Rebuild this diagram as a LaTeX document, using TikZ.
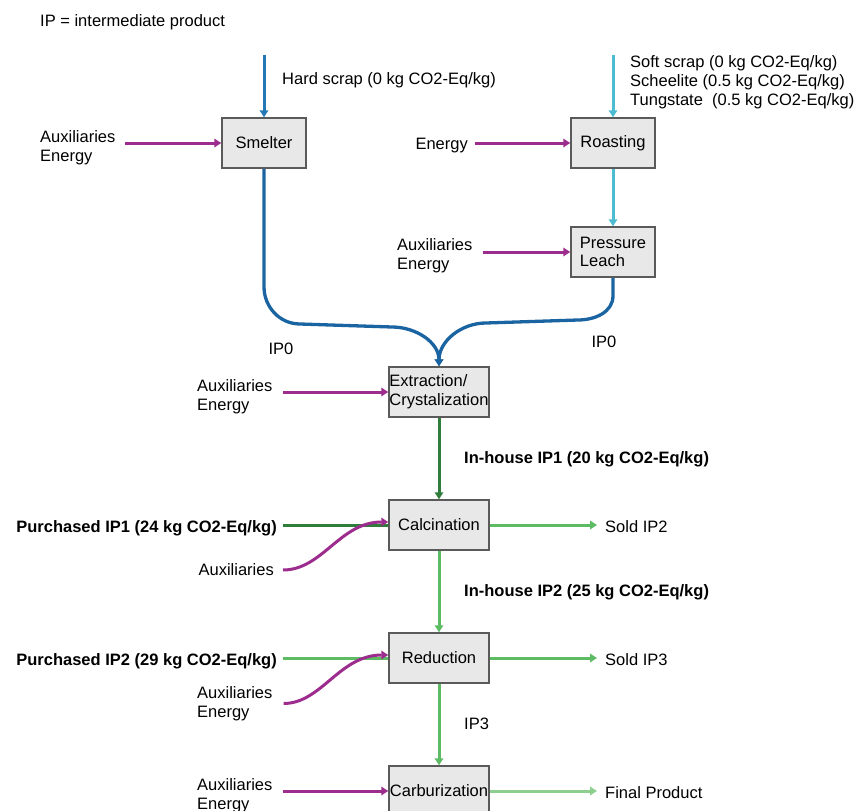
\documentclass[tikz,border=0pt]{standalone}
\usepackage{fontspec}
\setmainfont{Liberation Sans}
\usetikzlibrary{arrows.meta,positioning}
\definecolor{hard}{HTML}{2378B5}
\definecolor{soft}{HTML}{4DBBD0}
\definecolor{ipzero}{HTML}{1B64A2}
\definecolor{aux}{HTML}{9C2C8E}
\definecolor{ipone}{HTML}{2E7D3A}
\definecolor{iptwo}{HTML}{5DBB63}
\definecolor{final}{HTML}{8DCF8F}
\definecolor{boxfill}{HTML}{E8E8E8}
\definecolor{boxline}{HTML}{5A5A5A}
\newcommand{\lblfont}{\fontsize{16.5}{18.8}\selectfont}

\begin{document}
\begin{tikzpicture}[x=1pt,y=-1pt,
  proc/.style={draw=boxline,fill=boxfill,line width=1.5pt,minimum height=50pt,inner sep=0pt,font=\lblfont},
  lbl/.style={inner sep=0pt,font=\lblfont,align=left,yshift=-2pt},
  bold/.style={lbl,font=\lblfont\bfseries},
  flow/.style={line width=3pt,-{Triangle[length=7pt,width=8.5pt]}}]
  \useasboundingbox (0,0) rectangle (863,811);

  \node[lbl,anchor=west] (key) at (40,20) {IP = intermediate product};

  % Smelter branch
  \node[proc,minimum width=84pt] (smelt) at (264,143) {Smelter};
  \coordinate (hardin) at (264,55);
  \node[lbl,anchor=west] (hardlbl) at (282,78) {Hard scrap (0 kg CO2-Eq/kg)};
  \node[lbl,anchor=west] (auxsmelt) at (40,145.5) {Auxiliaries\\Energy};
  \draw[flow,hard] (hardin) -- (smelt);
  \draw[flow,aux,shorten <=9pt] (auxsmelt.east |- smelt.west) -- (smelt.west);

  % Roasting branch
  \node[proc,minimum width=84pt] (roast) at (613,143) {Roasting};
  \coordinate (softin) at (613,55);
  \node[lbl,anchor=west] (softlbl) at (630,80.5) {Soft scrap (0 kg CO2-Eq/kg)\\Scheelite (0.5 kg CO2-Eq/kg)\\Tungstate\ \ (0.5 kg CO2-Eq/kg)};
  \node[lbl,anchor=east] (enroast) at (468,144) {Energy};
  \draw[flow,soft] (softin) -- (roast);
  \draw[flow,aux,shorten <=7pt] (enroast.east |- roast.west) -- (roast.west);

  \node[proc,minimum width=84pt,align=left] (leach) at (613,252) {Pressure\\Leach};
  \node[lbl,anchor=west] (auxleach) at (397,253.5) {Auxiliaries\\Energy};
  \draw[flow,soft] (roast) -- (leach);
  \draw[flow,aux,shorten <=10pt] (auxleach.east |- leach.west) -- (leach.west);

  % Extraction
  \node[proc,minimum width=100pt,align=left] (extr) at (439,392) {Extraction/\\Crystalization};
  \node[lbl] (ipa) at (281,347) {IP0};
  \node[lbl] (ipb) at (604,340) {IP0};
  \draw[flow,ipzero,line width=3.3pt] (smelt.south) -- ++(0,118) to[out=-90,in=180] (300,324)
    -- (392,327) to[out=0,in=90] (extr.north);
  \draw[flow,ipzero,line width=3.3pt] (leach.south) -- ++(0,18) to[out=-90,in=0] (578,320)
    -- (486,323) to[out=180,in=90] (extr.north);
  \node[lbl,anchor=west] (auxextr) at (197,394.5) {Auxiliaries\\Energy};
  \draw[flow,aux,shorten <=10pt] (auxextr.east |- extr.west) -- (extr.west);

  % Calcination
  \node[proc,minimum width=100pt] (calc) at (439,525) {Calcination};
  \draw[flow,ipone] (extr) -- (calc);
  \node[bold,anchor=west] (inh1) at (464,457) {In-house IP1 (20 kg CO2-Eq/kg)};
  \node[bold,anchor=east] (buy1) at (277,526) {Purchased IP1 (24 kg CO2-Eq/kg)};
  \draw[ipone,line width=3pt,shorten <=6pt] (buy1.east |- calc.west) -- (calc.west);
  \node[lbl,anchor=east] (auxcalc) at (274,568) {Auxiliaries};
  \draw[flow,aux,shorten <=9pt] (auxcalc.east) to[out=0,in=180] ([yshift=3pt]calc.west);

  % Reduction
  \node[proc,minimum width=100pt] (red) at (439,658) {Reduction};
  \draw[flow,iptwo] (calc) -- (red);
  \node[bold,anchor=west] (inh2) at (464,590) {In-house IP2 (25 kg CO2-Eq/kg)};
  \node[bold,anchor=east] (buy2) at (277,659) {Purchased IP2 (29 kg CO2-Eq/kg)};
  \draw[iptwo,line width=3pt,shorten <=6pt] (buy2.east |- red.west) -- (red.west);
  \node[lbl,anchor=west] (auxred) at (197,701.5) {Auxiliaries\\Energy};
  \draw[flow,aux,shorten <=11pt] (auxred.east) to[out=0,in=180] ([yshift=3pt]red.west);

  % Carburization
  \node[proc,minimum width=100pt] (carb) at (439,791) {Carburization};
  \draw[flow,iptwo] (red) -- (carb);
  \node[lbl,anchor=west] (ip3) at (464,722) {IP3};
  \node[lbl,anchor=west] (auxcarb) at (197,793.5) {Auxiliaries\\Energy};
  \draw[flow,aux,shorten <=10pt] (auxcarb.east |- carb.west) -- (carb.west);

  % Outputs
  \foreach \src/\dst/\txt/\col in {calc/sold2/Sold IP2/iptwo, red/sold3/Sold IP3/iptwo, carb/prod/Final Product/final} {
    \node[lbl,anchor=west] (\dst) at (\src -| 605,0) {\txt};
    \draw[flow,\col,shorten >=8pt] (\src.east) -- (\dst.west |- \src.east);
  }
\end{tikzpicture}
\end{document}
